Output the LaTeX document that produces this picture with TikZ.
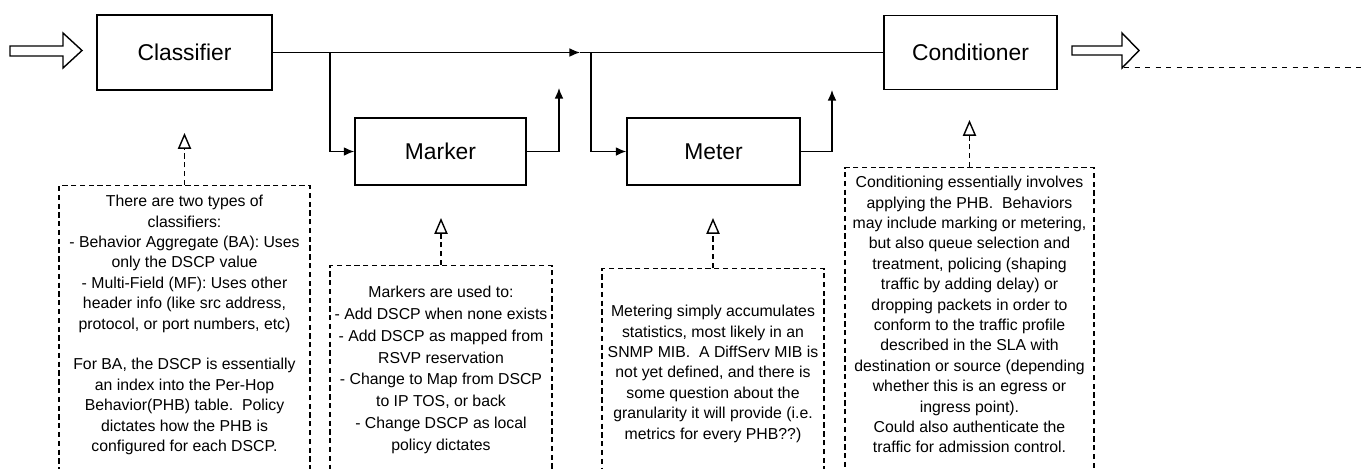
\documentclass[tikz,border=0pt]{standalone}
\usepackage{fontspec}
\setmainfont{Liberation Sans}
\usetikzlibrary{arrows.meta}

\begin{document}
\begin{tikzpicture}[x=0.02cm,y=-0.02cm,
  block/.style={draw,line width=0.8pt,inner sep=0pt,font=\fontsize{13}{15}\selectfont},
  notebox/.style={draw,densely dashed,line width=0.8pt,anchor=north,minimum height=7cm},
  notetext/.style={anchor=north,align=center,inner sep=0pt,font=\fontsize{9}{11.6}\selectfont},
  notearrow/.style={densely dashed,line width=0.8pt,-{Triangle[open,length=9pt,width=7.5pt]}},
  flow/.style={line width=0.8pt,-{Latex[length=6pt,width=5pt]}}]
\clip (0,0) rectangle (1366,468);
\node[block,minimum width=3.5cm,minimum height=1.5cm] (classifier) at (184.5,52.5) {Classifier};
\node[block,minimum width=3.42cm,minimum height=1.34cm] (marker) at (440.5,151.5) {Marker};
\node[block,minimum width=3.46cm,minimum height=1.34cm] (meter) at (713.5,151.5) {Meter};
\node[block,minimum width=3.46cm,minimum height=1.48cm] (conditioner) at (970.5,52.5) {Conditioner};
\coordinate (split1) at (330,52.5);
\coordinate (merge1) at (580,52.5);
\coordinate (split2) at (591,52.5);
\coordinate (mrkout) at (559,88);
\coordinate (mtrout) at (832,90);
\draw[flow] (classifier.east) -- (merge1);
\draw[line width=0.8pt] (merge1) -- (conditioner.west);
\draw[flow] (split1) |- (marker.west);
\draw[flow] (split2) |- (meter.west);
\draw[flow] (marker.east) -| (mrkout);
\draw[flow] (meter.east) -| (mtrout);
\draw[line width=0.8pt] (10,46) -- (63,46) -- (63,33) -- (82,50.5) -- (63,68) -- (63,56) -- (10,56) -- cycle;
\draw[line width=0.8pt] (1072,46) -- (1122,46) -- (1122,33) -- (1139,50.5) -- (1122,68) -- (1122,55) -- (1072,55) -- cycle;
\draw[dashed,line width=0.5pt] (1124,67) -- (1366,67);
\node[notebox,minimum width=5.02cm] (clsbox) at (184.5,185) {};
\node[notetext] (clsnote) at (184.5,195) {There are two types of\\classifiers:\\- Behavior Aggregate (BA): Uses\\only the DSCP value\\- Multi-Field (MF): Uses other\\header info (like src address,\\protocol, or port numbers, etc)\\[11.6pt]For BA, the DSCP is essentially\\an index into the Per-Hop\\Behavior(PHB) table.\ \ Policy\\dictates how the PHB is\\configured for each DSCP.};
\coordinate (clstip) at (184.5,133);
\draw[notearrow] (clsbox.north) -- (clstip);
\node[notebox,minimum width=4.44cm] (mrkbox) at (441,265) {};
\node[notetext,font=\fontsize{9}{12.4}\selectfont] (mrknote) at (441,286) {Markers are used to:\\- Add DSCP when none exists\\- Add DSCP as mapped from\\RSVP reservation\\- Change to Map from DSCP\\to IP TOS, or back\\- Change DSCP as local\\policy dictates};
\coordinate (mrktip) at (441,218);
\draw[notearrow] (mrkbox.north) -- (mrktip);
\node[notebox,minimum width=4.44cm] (mtrbox) at (713,268) {};
\node[notetext] (mtrnote) at (713,305) {Metering simply accumulates\\statistics, most likely in an\\SNMP MIB.\ \ A DiffServ MIB is\\not yet defined, and there is\\some question about the\\granularity it will provide (i.e.\\metrics for every PHB??)};
\coordinate (mtrtip) at (713,218);
\draw[notearrow] (mtrbox.north) -- (mtrtip);
\node[notebox,minimum width=4.98cm] (cndbox) at (969.5,167) {};
\node[notetext] (cndnote) at (969.5,176) {Conditioning essentially involves\\applying the PHB.\ \ Behaviors\\may include marking or metering,\\but also queue selection and\\treatment, policing (shaping\\traffic by adding delay) or\\dropping packets in order to\\conform to the traffic profile\\described in the SLA with\\destination or source (depending\\whether this is an egress or\\ingress point).\\Could also authenticate the\\traffic for admission control.};
\coordinate (cndtip) at (969.5,120);
\draw[notearrow] (cndbox.north) -- (cndtip);
\end{tikzpicture}
\end{document}
